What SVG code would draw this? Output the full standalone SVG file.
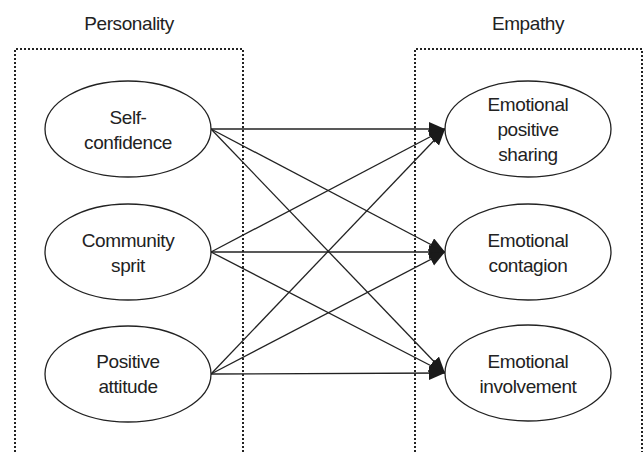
<svg xmlns="http://www.w3.org/2000/svg" width="643" height="452" viewBox="0 0 643 452">
  <style>
    .frame { fill: none; stroke: #222; stroke-width: 2; stroke-dasharray: 2 2; }
    .node ellipse { fill: #fff; stroke: #222; stroke-width: 1.3; }
    text { font-family: "Liberation Sans", Arial, sans-serif; font-size: 19px; letter-spacing: -0.4px; fill: #222; text-anchor: middle; }
    .edge { stroke: #222; stroke-width: 1.3; fill: none; marker-end: url(#arrow); }
  </style>
  <defs>
    <marker id="arrow" markerUnits="userSpaceOnUse" markerWidth="17" markerHeight="15" refX="16" refY="7" orient="auto">
      <path d="M0,0 L16,7 L0,14 z" fill="#1a1a1a"/>
    </marker>
  </defs>
  <rect width="643" height="452" fill="#fff"/>

  <!-- group frames -->
  <g id="personality-group">
    <path class="frame" d="M15,452 V49 H243 V452"/>
    <text x="129" y="30">Personality</text>
  </g>
  <g id="empathy-group">
    <path class="frame" d="M415,452 V49 H642 V452"/>
    <text x="528" y="30">Empathy</text>
  </g>

  <!-- connectors: every personality trait to every empathy dimension -->
  <g id="connectors">
    <line class="edge" x1="211" y1="129" x2="445" y2="129"/>
    <line class="edge" x1="211" y1="129" x2="445" y2="252"/>
    <line class="edge" x1="211" y1="129" x2="445" y2="373"/>
    <line class="edge" x1="211" y1="252" x2="445" y2="129"/>
    <line class="edge" x1="211" y1="252" x2="445" y2="252"/>
    <line class="edge" x1="211" y1="252" x2="445" y2="373"/>
    <line class="edge" x1="211" y1="374" x2="445" y2="129"/>
    <line class="edge" x1="211" y1="374" x2="445" y2="252"/>
    <line class="edge" x1="211" y1="374" x2="445" y2="373"/>
  </g>

  <!-- personality nodes -->
  <g id="self-confidence" class="node">
    <ellipse cx="128" cy="129" rx="83" ry="48"/>
    <text x="128" y="124">Self-</text>
    <text x="128" y="149">confidence</text>
  </g>
  <g id="community-sprit" class="node">
    <ellipse cx="128" cy="252" rx="83" ry="48"/>
    <text x="128" y="247">Community</text>
    <text x="128" y="272">sprit</text>
  </g>
  <g id="positive-attitude" class="node">
    <ellipse cx="128" cy="374" rx="83" ry="48"/>
    <text x="128" y="368">Positive</text>
    <text x="128" y="393">attitude</text>
  </g>

  <!-- empathy nodes -->
  <g id="emotional-positive-sharing" class="node">
    <ellipse cx="528" cy="129" rx="83" ry="48"/>
    <text x="528" y="111">Emotional</text>
    <text x="528" y="136">positive</text>
    <text x="528" y="161">sharing</text>
  </g>
  <g id="emotional-contagion" class="node">
    <ellipse cx="528" cy="252" rx="83" ry="48"/>
    <text x="528" y="247">Emotional</text>
    <text x="528" y="272">contagion</text>
  </g>
  <g id="emotional-involvement" class="node">
    <ellipse cx="528" cy="373" rx="83" ry="48"/>
    <text x="528" y="368">Emotional</text>
    <text x="528" y="393">involvement</text>
  </g>
</svg>
